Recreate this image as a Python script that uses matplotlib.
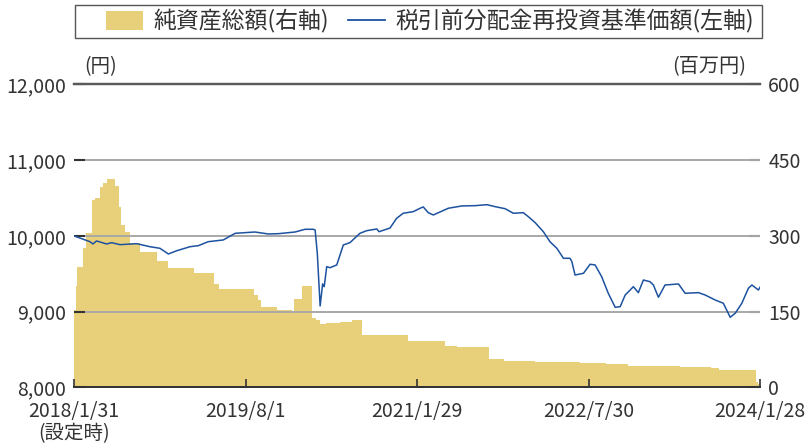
import pandas as pd
import matplotlib
matplotlib.use("Agg")
import matplotlib.pyplot as plt
from matplotlib.patches import Patch, Rectangle
from matplotlib.lines import Line2D

plt.rcParams["font.family"] = ["Liberation Sans Narrow", "Noto Sans CJK JP", "DejaVu Sans"]

# 税引前分配金再投資基準価額 (円)
nav_dates = [
    "2018-01-31", "2018-03-23", "2018-04-01", "2018-04-13", "2018-05-15", "2018-05-31",
    "2018-06-27", "2018-08-19", "2018-09-30", "2018-11-01", "2018-11-28", "2018-12-25",
    "2019-02-05", "2019-03-04", "2019-04-04", "2019-05-22", "2019-06-29", "2019-08-31",
    "2019-10-13", "2019-11-14", "2020-01-06", "2020-02-07", "2020-03-04", "2020-03-10",
    "2020-03-17", "2020-03-26", "2020-04-03", "2020-04-08", "2020-04-16", "2020-04-27",
    "2020-05-18", "2020-06-08", "2020-06-29", "2020-07-31", "2020-08-22", "2020-09-23",
    "2020-09-30", "2020-11-04", "2020-11-25", "2020-12-16", "2021-01-17", "2021-02-08",
    "2021-02-18", "2021-03-06", "2021-03-22", "2021-05-09", "2021-06-21", "2021-08-02",
    "2021-09-09", "2021-10-05", "2021-11-06", "2021-12-02", "2022-01-03", "2022-01-19",
    "2022-02-10", "2022-03-08", "2022-03-29", "2022-04-20", "2022-05-11", "2022-06-01",
    "2022-06-07", "2022-06-17", "2022-07-14", "2022-08-04", "2022-08-20", "2022-09-10",
    "2022-10-01", "2022-10-23", "2022-11-08", "2022-11-24", "2022-12-10", "2022-12-20",
    "2023-01-05", "2023-01-21", "2023-02-11", "2023-02-22", "2023-03-10", "2023-03-31",
    "2023-05-13", "2023-06-03", "2023-07-16", "2023-08-06", "2023-09-07", "2023-10-03",
    "2023-10-25", "2023-11-10", "2023-12-01", "2023-12-22", "2024-01-02", "2024-01-23",
    "2024-01-28",
]
nav_values = [
    10000, 9923, 9893, 9933, 9893, 9910,
    9884, 9897, 9857, 9836, 9761, 9804,
    9857, 9871, 9923, 9946, 10034, 10051,
    10025, 10029, 10051, 10087, 10087, 10078,
    9770, 9074, 9365, 9329, 9593, 9580,
    9616, 9880, 9910, 10034, 10069, 10091,
    10055, 10104, 10232, 10299, 10320, 10365,
    10382, 10306, 10276, 10365, 10395, 10399,
    10412, 10386, 10359, 10299, 10306, 10254,
    10174, 10055, 9923, 9836, 9704, 9704,
    9659, 9483, 9506, 9625, 9616, 9461,
    9242, 9057, 9065, 9219, 9285, 9329,
    9250, 9417, 9395, 9351, 9189, 9351,
    9365, 9242, 9250, 9219, 9153, 9110,
    8925, 8978, 9110, 9308, 9351, 9285,
    9321,
]

# 純資産総額 (百万円)
aum_dates = [
    "2018-01-31", "2018-02-06", "2018-02-11", "2018-02-28", "2018-03-10", "2018-03-28",
    "2018-04-08", "2018-04-24", "2018-05-04", "2018-05-15", "2018-06-11", "2018-06-24",
    "2018-07-01", "2018-07-12", "2018-07-28", "2018-08-29", "2018-10-23", "2018-11-26",
    "2019-02-17", "2019-04-22", "2019-05-08", "2019-08-27", "2019-09-09", "2019-09-19",
    "2019-11-09", "2019-12-26", "2020-01-02", "2020-01-27", "2020-02-29", "2020-03-13",
    "2020-03-26", "2020-04-14", "2020-05-29", "2020-07-06", "2020-08-08", "2020-12-30",
    "2021-04-28", "2021-06-06", "2021-09-17", "2021-11-04", "2022-02-10", "2022-07-03",
    "2022-09-24", "2022-12-03", "2023-05-18", "2023-08-25", "2023-09-20", "2024-01-16",
    "2024-01-22", "2024-01-28",
]
aum_values = [
    153, 200, 239, 275, 305, 371,
    376, 397, 404, 412, 399, 358,
    321, 308, 285, 268, 250, 236,
    226, 205, 194, 183, 173, 160,
    153, 147, 175, 200, 138, 133,
    125, 128, 130, 133, 104, 92,
    82, 80, 57, 52, 50, 48,
    46, 42, 41, 38, 35, 11,
    6, 6,
]

tick_dates = ["2018-01-31", "2019-08-01", "2021-01-29", "2022-07-30", "2024-01-28"]
tick_labels = ["2018/1/31\n(設定時)", "2019/8/1", "2021/1/29", "2022/7/30", "2024/1/28"]

nav = pd.Series(nav_values, index=pd.to_datetime(nav_dates))
aum = pd.Series(aum_values, index=pd.to_datetime(aum_dates))

fig = plt.figure(figsize=(8.08, 4.48), dpi=100)
ax = fig.add_axes([0.0916, 0.1355, 0.8490, 0.6760])
ax2 = ax.twinx()

ax2.set_facecolor("#f1f0e8")
ax2.fill_between(aum.index, 0, aum.values, step="post", color="#e8d07b", linewidth=0)
ax2.set_ylim(0, 600)
ax2.set_yticks([0, 150, 300, 450, 600])

ax.set_zorder(ax2.get_zorder() + 1)
ax.patch.set_visible(False)
for y in [9000, 10000, 11000]:
    ax.axhline(y, color="#a8a8a8", linewidth=1.4, zorder=1)
ax.plot(nav.index, nav.values, color="#1d52a0", linewidth=1.1, zorder=3)
ax.set_ylim(8000, 12000)
ax.set_yticks([8000, 9000, 10000, 11000, 12000])
ax.set_yticklabels([f"{v:,}" for v in [8000, 9000, 10000, 11000, 12000]])
ax.set_xlim(pd.Timestamp("2018-01-31"), pd.Timestamp("2024-01-28"))
ax.set_xticks(pd.to_datetime(tick_dates))
ax.set_xticklabels(tick_labels, linespacing=1.05)

for a in (ax, ax2):
    for s in ["left", "right"]:
        a.spines[s].set_visible(False)
    a.spines["top"].set_color("#5a5a5a")
    a.spines["top"].set_linewidth(1.6)
    a.spines["bottom"].set_color("#333333")
    a.spines["bottom"].set_linewidth(1.4)

ax.tick_params(axis="y", direction="in", length=8, width=1.5, color="#333333",
               labelsize=14, labelcolor="#333333", pad=6)
ax2.tick_params(axis="y", direction="in", length=8, width=1.5, color="#333333",
                labelsize=14, labelcolor="#333333", pad=6)
ax.tick_params(axis="x", direction="in", length=6, width=1.2, color="#333333",
               labelsize=14, labelcolor="#333333", pad=10)

fig.text(0.104, 0.828, "(円)", fontsize=14, color="#333333", ha="left", va="bottom")
fig.text(0.923, 0.828, "(百万円)", fontsize=14.5, color="#333333", ha="right", va="bottom")

# legend box drawn separately (wider than its content, as in the original)
fig.patches.append(Rectangle((75 / 808, 1 - 38 / 448), 687 / 808, 33 / 448,
                             transform=fig.transFigure, fill=False,
                             edgecolor="#555555", linewidth=1.0))
handles = [Patch(facecolor="#e8d07b", edgecolor="none"),
           Line2D([], [], color="#1d52a0", linewidth=1.3)]
leg = fig.legend(handles, ["純資産総額(右軸)", "税引前分配金再投資基準価額(左軸)"],
                 loc="center left", bbox_to_anchor=(106 / 808, 1 - 21.5 / 448), ncol=2,
                 frameon=False, borderpad=0, borderaxespad=0,
                 handlelength=1.6, handleheight=0.9, handletextpad=0.45,
                 columnspacing=0.85,
                 prop={"family": ["Noto Sans CJK JP", "DejaVu Sans"], "size": 16.5})
for t in leg.get_texts():
    t.set_color("#333333")

fig.savefig("out.png", dpi=100)
